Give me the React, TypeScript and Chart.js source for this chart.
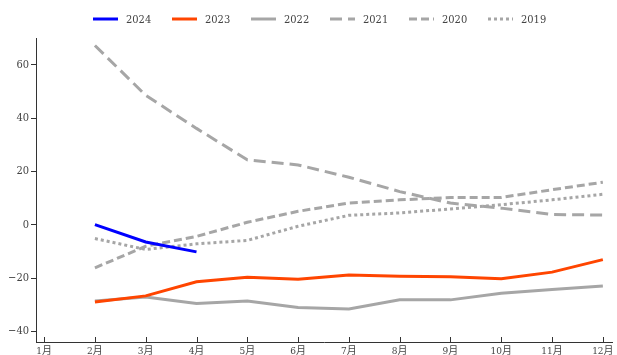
import React, { useEffect, useRef } from "react";
import { Chart, registerables } from "chart.js";

Chart.register(...registerables);

const months = ["1月", "2月", "3月", "4月", "5月", "6月", "7月", "8月", "9月", "10月", "11月", "12月"];

const s2024 = [null, 0, -6.5, -10.2, null, null, null, null, null, null, null, null];
const s2023 = [null, -29, -26.7, -21.4, -19.7, -20.5, -18.9, -19.3, -19.5, -20.3, -17.8, -13.1];
const s2022 = [null, -28.6, -27.1, -29.6, -28.6, -31.1, -31.6, -28.2, -28.2, -25.7, -24.3, -23.0];
const s2021 = [null, 67.2, 48.5, 36.1, 24.3, 22.4, 17.8, 12.4, 8.1, 6.2, 3.8, 3.6];
const s2020 = [null, -16.2, -8.1, -4.4, 0.9, 5.0, 8.1, 9.3, 10.2, 10.2, 13.1, 15.9];
const s2019 = [null, -5.2, -9.3, -7.2, -5.9, -0.6, 3.5, 4.4, 5.9, 7.5, 9.3, 11.4];

const seriesNames = ["2024", "2023", "2022", "2021", "2020", "2019"];
const seriesValues = [s2024, s2023, s2022, s2021, s2020, s2019];
const seriesColors = ["#0000FF", "#FF4500", "#A6A6A6", "#A6A6A6", "#A6A6A6", "#A6A6A6"];
const seriesDashes: number[][] = [[], [], [], [12, 6], [8, 4], [3, 3]];

const FONT = "'DejaVu Serif Condensed', 'DejaVu Serif', 'Noto Sans CJK SC', serif";

const toPoints = (arr: (number | null)[]) =>
  arr.map((v, i) => ({ x: i + 1, y: v }));

const legendPlugin = {
  id: "customLegend",
  afterDraw(chart: any) {
    const ctx = chart.ctx;
    ctx.save();
    ctx.font = `11px ${FONT}`;
    ctx.textBaseline = "middle";
    ctx.fillStyle = "#444";
    const startX = 93;
    const y = 19;
    chart.data.datasets.forEach((ds: any, i: number) => {
      const x0 = startX + i * 79;
      ctx.strokeStyle = ds.borderColor;
      ctx.lineWidth = 3;
      ctx.setLineDash(ds.borderDash || []);
      ctx.beginPath();
      ctx.moveTo(x0, y);
      ctx.lineTo(x0 + 25, y);
      ctx.stroke();
      ctx.setLineDash([]);
      ctx.fillText(ds.label, x0 + 33, y + 1);
    });
    ctx.restore();
  },
};

const innerTicksPlugin = {
  id: "innerTicks",
  afterDraw(chart: any) {
    const ctx = chart.ctx;
    const xs = chart.scales.x;
    const bottom = chart.chartArea.bottom;
    ctx.save();
    ctx.strokeStyle = "#333";
    ctx.lineWidth = 1;
    xs.ticks.forEach((t: any) => {
      const px = Math.round(xs.getPixelForValue(t.value)) + 0.5;
      ctx.beginPath();
      ctx.moveTo(px, bottom);
      ctx.lineTo(px, bottom - 5);
      ctx.stroke();
    });
    ctx.restore();
  },
};

export default function App() {
  const ref = useRef<HTMLCanvasElement>(null);
  useEffect(() => {
    const chart = new Chart(ref.current!, {
      type: "line",
      data: {
        datasets: seriesNames.map((name, i) => ({
          label: name,
          data: toPoints(seriesValues[i]),
          borderColor: seriesColors[i],
          backgroundColor: seriesColors[i],
          borderDash: seriesDashes[i],
          borderWidth: 3,
          pointRadius: 0,
          tension: 0,
          spanGaps: false,
        })),
      },
      options: {
        responsive: false,
        animation: false,
        layout: { padding: { top: 38, right: 5, left: 0, bottom: 0 } },
        plugins: { legend: { display: false }, tooltip: { enabled: false } },
        scales: {
          x: {
            type: "linear",
            min: 0.84,
            max: 12.18,
            grid: { display: false },
            border: { display: true, color: "#333", width: 1 },
            ticks: {
              stepSize: 1,
              includeBounds: false,
              padding: -5,
              color: "#444",
              font: { family: FONT, size: 10 },
              maxRotation: 0,
              autoSkip: false,
              callback: (v: any) => months[Math.round(v) - 1] ?? "",
            },
            afterFit: (s: any) => { s.height = 13; },
          },
          y: {
            min: -44,
            max: 70,
            grid: { drawOnChartArea: false, drawTicks: true, tickLength: 5, color: "#333" },
            border: { display: true, color: "#333", width: 1 },
            ticks: {
              stepSize: 20,
              includeBounds: false,
              padding: 2,
              color: "#444",
              font: { family: FONT, size: 11 },
              callback: (v: any) => String(v).replace("-", "−"),
            },
            afterFit: (s: any) => { s.width = 36; },
          },
        },
      },
      plugins: [legendPlugin, innerTicksPlugin],
    });
    return () => chart.destroy();
  }, []);
  return (
    <div style={{ position: "fixed", left: 0, top: 0, width: 617, height: 355, background: "#fff" }}>
      <canvas ref={ref} width={617} height={355} style={{ display: "block" }} />
    </div>
  );
}
